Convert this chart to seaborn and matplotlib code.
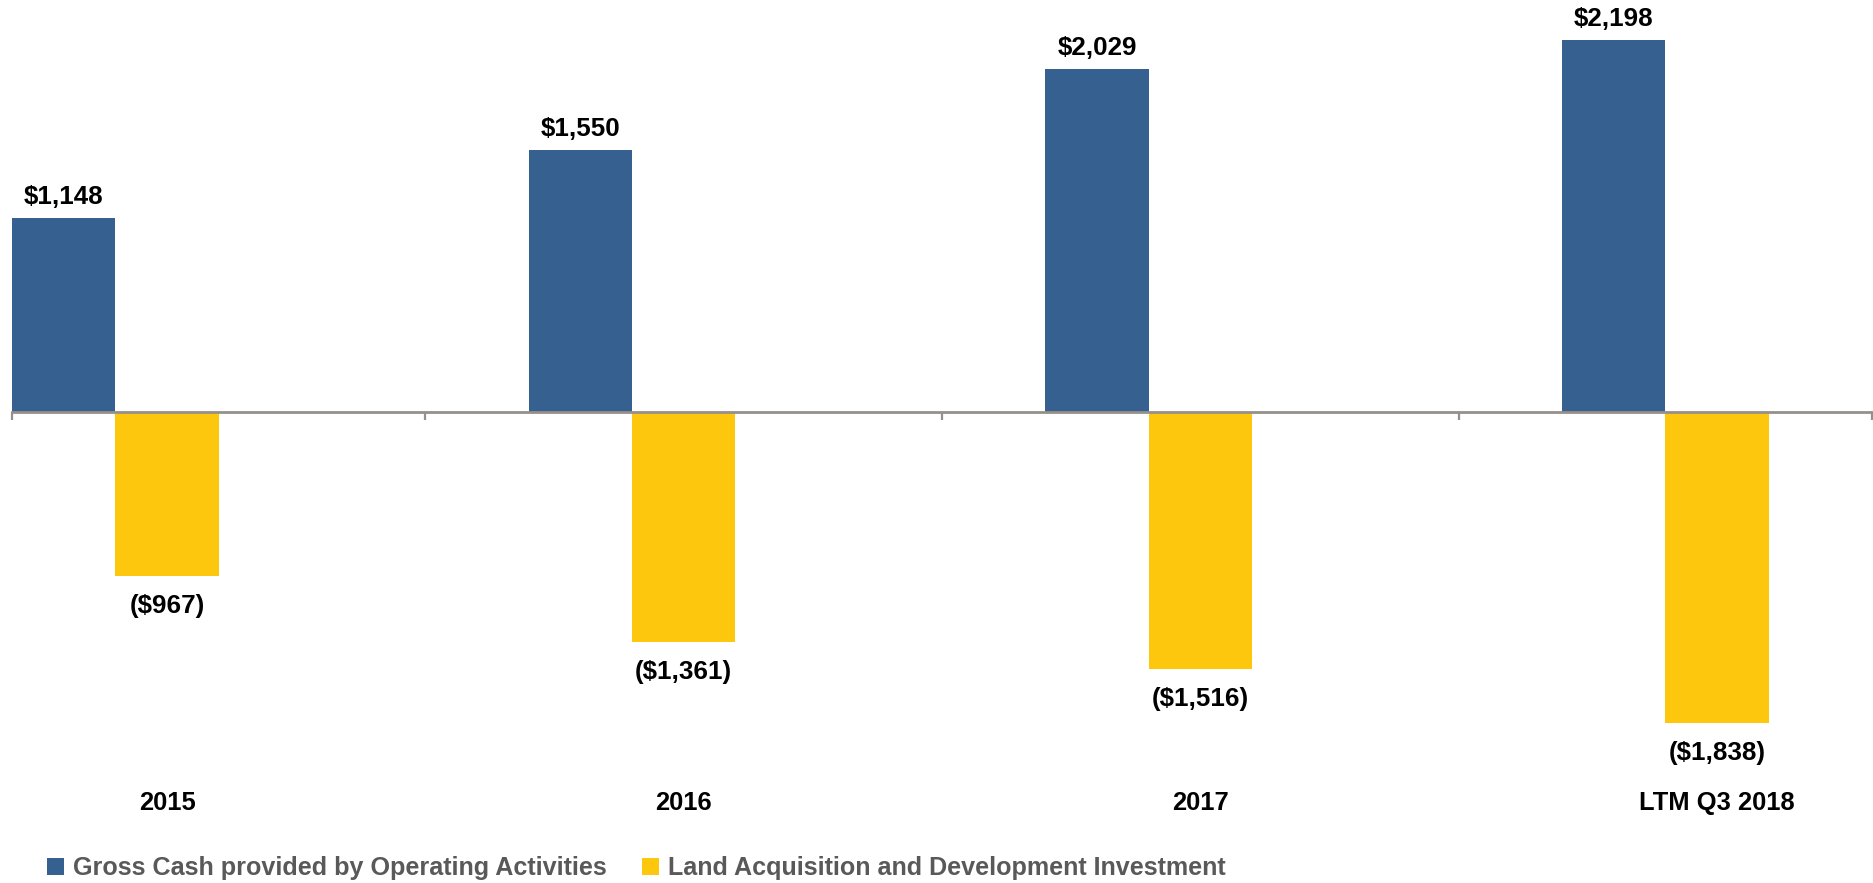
import matplotlib
matplotlib.use("Agg")
import matplotlib.pyplot as plt
import matplotlib.transforms as mtransforms
import pandas as pd
import seaborn as sns

# Chart data ($ millions)
periods = ["2015", "2016", "2017", "LTM Q3 2018"]
operating_cash = [1148, 1550, 2029, 2198]
land_investment = [-967, -1361, -1516, -1838]
series_names = ["Gross Cash provided by Operating Activities",
                "Land Acquisition and Development Investment"]

BLUE = "#36608F"
GOLD = "#FCC70C"
AXIS_GRAY = "#968F8A"
LEGEND_GRAY = "#595959"

df = pd.DataFrame({
    "period": periods * 2,
    "series": [series_names[0]] * len(periods) + [series_names[1]] * len(periods),
    "value": operating_cash + land_investment,
})

sns.set_theme(style="white")
plt.rcParams["font.family"] = ["Liberation Sans", "DejaVu Sans"]
plt.rcParams["font.weight"] = "bold"

W, H = 1873, 883
fig = plt.figure(figsize=(W / 100, H / 100), dpi=100)
ax = fig.add_axes([12 / W, 0, 1860 / W, 1])

sns.barplot(data=df, x="period", y="value", hue="series", order=periods,
            hue_order=series_names, palette=[BLUE, GOLD], width=0.4,
            dodge=True, saturation=1, linewidth=0, errorbar=None, ax=ax)

# vertical scale: zero line sits at 412 px from the top
px_per_unit = 0.1692
ax.set_ylim(-(H - 412) / px_per_unit, 412 / px_per_unit)
# each category slot is 0.6 wide to the left of centre + 0.2 blank slot
ax.set_xlim(-0.2, 3.4)

for s in ["top", "left", "right"]:
    ax.spines[s].set_visible(False)
ax.spines["bottom"].set_position(("data", 0))
ax.spines["bottom"].set_color(AXIS_GRAY)
ax.spines["bottom"].set_linewidth(2)
ax.set_yticks([])
ax.set_xticks([])
ax.set_xticks([-0.2, 0.6, 1.6, 2.6, 3.4], minor=True)
ax.tick_params(axis="x", which="minor", direction="out", length=6,
               width=1.6, color=AXIS_GRAY, bottom=True)
ax.set_xlabel("")
ax.set_ylabel("")

# value labels
blue_bars, gold_bars = ax.containers[0], ax.containers[1]
ax.bar_label(blue_bars, labels=[f"${v:,.0f}" for v in operating_cash],
             padding=6.5, fontsize=18.7, fontweight="bold", color="black")
ax.bar_label(gold_bars, labels=[f"(${-v:,.0f})" for v in land_investment],
             padding=13, fontsize=18.7, fontweight="bold", color="black")

# category labels below the chart
trans = mtransforms.blended_transform_factory(ax.transData, ax.transAxes)
for i, name in enumerate(periods):
    ax.text(i + 0.1, 1 - 803 / H, name, transform=trans, ha="center",
            va="center", fontsize=18.4, fontweight="bold", color="black")

# legend along the bottom
handles, labels = ax.get_legend_handles_labels()
if ax.get_legend() is not None:
    ax.get_legend().remove()
fig.legend(handles, labels, loc="center left",
           bbox_to_anchor=(47 / W, 1 - 868 / H), ncol=2, frameon=False,
           borderpad=0, borderaxespad=0, handlelength=0.68,
           handleheight=0.68, handletextpad=0.36, columnspacing=1.4,
           prop={"family": ["Liberation Sans"], "weight": "bold", "size": 18.1},
           labelcolor=LEGEND_GRAY)

fig.savefig("out.png", dpi=100)
